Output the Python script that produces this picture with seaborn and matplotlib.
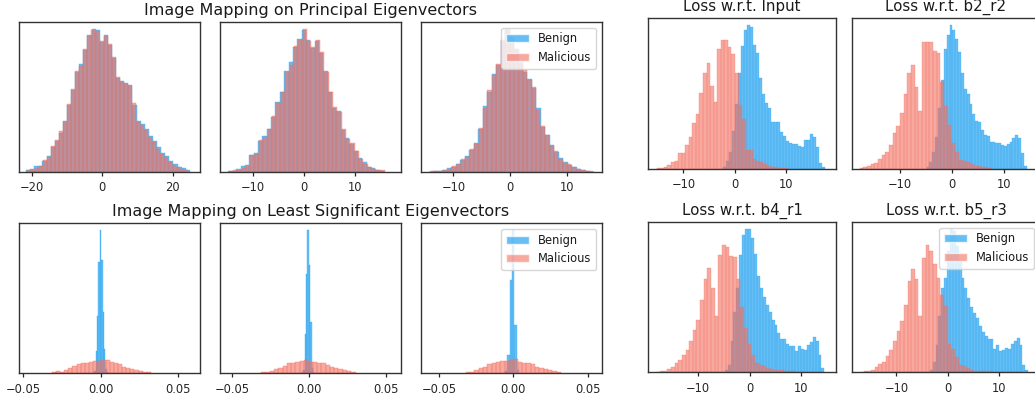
import numpy as np
import pandas as pd
import matplotlib
matplotlib.use("Agg")
import matplotlib.pyplot as plt
import seaborn as sns
from matplotlib.patches import Patch

# ---------------- data (bar heights) ----------------
series_names = ["Benign", "Malicious"]

# Image mapping on principal eigenvectors
pe1_benign = [5, 8, 17, 17, 33, 47, 76, 93, 118, 155, 203, 248, 300, 326, 368, 412, 430, 427, 392, 413,
              381, 342, 282, 275, 268, 262, 202, 155, 143, 128, 108, 92, 74, 58, 47, 33, 24, 16, 12, 6]
pe1_benign_range = (-21.7, 24.9)
pe1_malicious = [7, 7, 12, 17, 35, 45, 78, 95, 122, 152, 205, 250, 305, 320, 370, 410, 428, 425, 395, 410,
                 385, 345, 287, 272, 265, 258, 207, 150, 140, 125, 105, 90, 70, 55, 45, 30, 22, 15, 10, 5]
pe1_malicious_range = (-21.5, 24.5)

pe2_benign = [2, 4, 8, 17, 20, 50, 58, 93, 107, 128, 165, 210, 238, 302, 330, 375, 398, 425, 395, 372,
              392, 356, 302, 240, 190, 182, 125, 102, 85, 62, 42, 30, 15, 11, 6, 4]
pe2_benign_range = (-15.0, 15.7)
pe2_malicious = [3, 5, 7, 11, 18, 52, 55, 95, 105, 130, 167, 205, 240, 300, 320, 378, 395, 427, 393, 375,
                 395, 359, 300, 238, 193, 180, 128, 100, 87, 63, 40, 25, 15, 10, 7, 5]
pe2_malicious_range = (-14.8, 15.9)

pe3_benign = [1, 2, 3, 6, 12, 15, 25, 35, 48, 65, 88, 130, 198, 240, 295, 320, 392, 425, 402, 368,
              330, 300, 280, 252, 192, 135, 112, 80, 60, 42, 30, 22, 16, 9, 5, 3, 1]
pe3_benign_range = (-14.3, 14.9)
pe3_malicious = [2, 2, 2, 5, 10, 17, 23, 38, 45, 68, 85, 133, 193, 245, 290, 325, 395, 428, 405, 365,
                 325, 305, 277, 255, 187, 137, 110, 78, 62, 40, 28, 25, 15, 10, 5, 2, 2]
pe3_malicious_range = (-14.1, 14.7)

# Image mapping on least significant eigenvectors
le1_benign = [2, 8, 66, 170, 333, 426, 338, 183, 73, 13, 3]
le1_benign_range = (-0.0052, 0.0047)
le1_malicious = [3, 7, 3, 10, 15, 23, 27, 30, 32, 35, 37, 37, 40, 40, 35, 30, 27, 20, 15, 13, 10, 6, 5, 3]
le1_malicious_range = (-0.0318, 0.0323)

le2_benign = [4, 10, 117, 298, 427, 323, 153, 15, 3]
le2_benign_range = (-0.0049, 0.0032)
le2_malicious = [3, 5, 8, 12, 17, 23, 30, 32, 35, 38, 40, 35, 35, 32, 30, 25, 20, 15, 13, 10, 7, 4]
le2_malicious_range = (-0.0314, 0.0301)

le3_benign = [8, 55, 280, 427, 145, 10]
le3_benign_range = (-0.0056, 0.0040)
le3_malicious = [3, 5, 10, 15, 20, 27, 32, 35, 37, 38, 40, 42, 35, 32, 30, 27, 20, 15, 12, 10, 8, 5]
le3_malicious_range = (-0.032, 0.032)

# Loss w.r.t. layers
loss_titles = ["Loss w.r.t. Input", "Loss w.r.t. b2_r2", "Loss w.r.t. b4_r1", "Loss w.r.t. b5_r3"]

l1_benign = [7, 24, 52, 114, 194, 287, 370, 417, 432, 427, 372, 347, 274, 224, 197, 182, 140, 140, 140, 112,
             100, 84, 79, 74, 74, 70, 67, 87, 87, 104, 97, 67, 17, 7]
l1_benign_range = (-2.34, 17.58)
l1_malicious = [2, 4, 7, 12, 22, 25, 47, 49, 72, 97, 137, 164, 227, 287, 317, 249, 200, 359, 387, 387,
                365, 344, 287, 192, 149, 57, 57, 30, 25, 22, 14, 10, 6, 6, 4, 3, 2]
l1_malicious_range = (-15.2, 10.5)

l2_benign = [7, 22, 52, 97, 184, 267, 360, 402, 432, 417, 390, 350, 287, 240, 224, 194, 166, 144, 142, 116,
             102, 100, 80, 80, 77, 77, 72, 70, 74, 80, 94, 102, 94, 47, 10]
l2_benign_range = (-4.9, 14.45)
l2_malicious = [4, 7, 10, 14, 17, 30, 42, 52, 72, 107, 130, 167, 225, 289, 312, 247, 174, 382, 382, 382,
                354, 347, 262, 189, 132, 77, 50, 27, 25, 20, 14, 9, 9, 5, 5, 3]
l2_malicious_range = (-17.8, 7.7)

l3_benign = [8, 23, 93, 180, 253, 351, 413, 430, 430, 403, 355, 290, 253, 225, 201, 181, 158, 141, 118, 101,
             101, 85, 78, 78, 65, 78, 71, 68, 81, 91, 106, 95, 51, 13]
l3_benign_range = (-4.84, 14.5)
l3_malicious = [2, 3, 5, 10, 16, 28, 38, 51, 68, 95, 126, 158, 218, 280, 313, 253, 170, 353, 383, 375,
                348, 345, 280, 195, 133, 85, 53, 28, 23, 18, 13, 10, 6, 6, 6, 3, 3, 3]
l3_malicious_range = (-18.1, 8.84)

l4_benign = [8, 31, 83, 168, 253, 283, 363, 428, 423, 378, 333, 281, 251, 223, 195, 178, 163, 138, 121, 108,
             101, 101, 71, 83, 65, 68, 73, 71, 85, 95, 103, 83, 23, 8]
l4_benign_range = (-3.5, 15.7)
l4_malicious = [2, 3, 5, 8, 15, 25, 31, 48, 68, 93, 123, 153, 201, 273, 308, 278, 168, 343, 380, 363,
                323, 281, 230, 198, 85, 70, 45, 23, 18, 13, 8, 5, 5, 3, 3, 3]
l4_malicious_range = (-17.1, 8.57)

# axis ranges and tick labels
pe_xlims = [(-23.7, 27.8), (-16.5, 19.0), (-15.7, 16.2)]
pe_xticks = [[-20, 0, 20], [-10, 0, 10], [-10, 0, 10]]
le_xlims = [(-0.0529, 0.0639), (-0.058, 0.0595), (-0.0621, 0.0597)]
le_xticks = [-0.05, 0.0, 0.05]
loss_xlims = [(-17.0, 19.7), (-19.4, 16.9), (-19.7, 16.75), (-18.65, 18.0)]
loss_xticks = [-10, 0, 10]

# ---------------- style ----------------
BLUE = "#2CA6F0"
SALMON = "#F47060"
A_B, A_M = 0.72, 0.6

sns.set_style("ticks")
plt.rcParams.update({
    "font.family": ["DejaVu Sans"],
    "xtick.labelsize": 8.3,
    "xtick.major.size": 3.2,
    "xtick.major.width": 0.9,
    "axes.linewidth": 1.0,
    "axes.edgecolor": "0.2",
    "xtick.color": "0.15",
    "text.color": "0.1",
})

W, H = 1035, 400
fig = plt.figure(figsize=(W / 100, H / 100), dpi=100)


def rect(x0, y0, x1, y1):
    return [x0 / W, 1 - y1 / H, (x1 - x0) / W, (y1 - y0) / H]


def draw(ax, b, b_rng, m, m_rng, xlim, xticks, lw=0.25):
    for counts, rng, color, alpha in [(b, b_rng, BLUE, A_B), (m, m_rng, SALMON, A_M)]:
        n = len(counts)
        edges = np.linspace(rng[0], rng[1], n + 1)
        df = pd.DataFrame({"value": (edges[:-1] + edges[1:]) / 2, "count": counts})
        sns.histplot(data=df, x="value", weights="count", bins=n, binrange=rng,
                     color=color, alpha=alpha, linewidth=lw, edgecolor=color, ax=ax)
    ax.set_xlim(*xlim)
    ax.set_xticks(xticks)
    ax.set_yticks([])
    ax.set_ylabel("")
    ax.set_xlabel("")


def legend(ax):
    handles = [Patch(facecolor=BLUE, alpha=A_B, label=series_names[0]),
               Patch(facecolor=SALMON, alpha=A_M, label=series_names[1])]
    ax.legend(handles=handles, loc="upper right", fontsize=8.3, frameon=True)


left_x = [(19, 200), (220, 401), (421, 602)]
pe_data = [(pe1_benign, pe1_benign_range, pe1_malicious, pe1_malicious_range),
           (pe2_benign, pe2_benign_range, pe2_malicious, pe2_malicious_range),
           (pe3_benign, pe3_benign_range, pe3_malicious, pe3_malicious_range)]
le_data = [(le1_benign, le1_benign_range, le1_malicious, le1_malicious_range),
           (le2_benign, le2_benign_range, le2_malicious, le2_malicious_range),
           (le3_benign, le3_benign_range, le3_malicious, le3_malicious_range)]

for i, (x0, x1) in enumerate(left_x):
    ax = fig.add_axes(rect(x0, 22, x1, 172))
    draw(ax, *pe_data[i], pe_xlims[i], pe_xticks[i])
    if i == 1:
        ax.set_title("Image Mapping on Principal Eigenvectors", fontsize=11.5, pad=5)
    if i == 2:
        legend(ax)
    ax = fig.add_axes(rect(x0, 223.3, x1, 373.3))
    draw(ax, *le_data[i], le_xlims[i], le_xticks)
    if i == 1:
        ax.set_title("Image Mapping on Least Significant Eigenvectors", fontsize=11.5, pad=5)
    if i == 2:
        legend(ax)

loss_data = [(l1_benign, l1_benign_range, l1_malicious, l1_malicious_range),
             (l2_benign, l2_benign_range, l2_malicious, l2_malicious_range),
             (l3_benign, l3_benign_range, l3_malicious, l3_malicious_range),
             (l4_benign, l4_benign_range, l4_malicious, l4_malicious_range)]
loss_rects = [rect(647.5, 17.7, 835.5, 169), rect(851.5, 17.7, 1039.5, 169),
              rect(648, 222, 836, 372.3), rect(852, 222, 1040, 372.3)]

for i in range(4):
    ax = fig.add_axes(loss_rects[i])
    draw(ax, *loss_data[i], loss_xlims[i], loss_xticks, lw=0.2)
    ax.set_title(loss_titles[i], fontsize=10.8, pad=5)
    if i == 3:
        legend(ax)

fig.savefig("out.png", dpi=100)
